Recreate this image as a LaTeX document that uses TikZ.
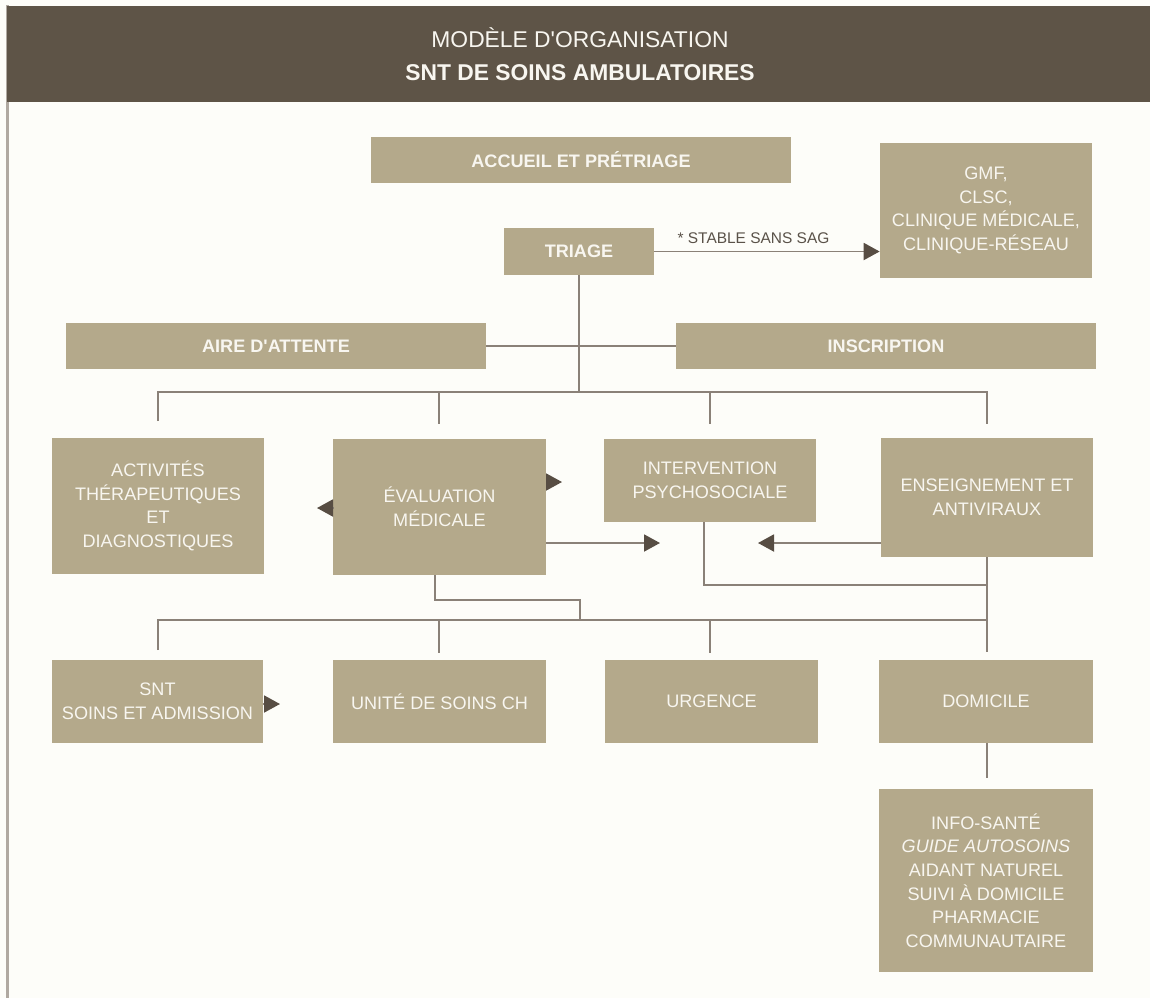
\documentclass[tikz,border=0pt]{standalone}
\usepackage{fontspec}
\setmainfont{Liberation Sans}
\usetikzlibrary{arrows.meta,calc}
\definecolor{hdr}{HTML}{5E5447}
\definecolor{boxc}{HTML}{B4A98B}
\definecolor{linec}{HTML}{8A8178}
\definecolor{tipc}{HTML}{574D43}
\definecolor{bg}{HTML}{FDFDF9}
\definecolor{txt}{HTML}{F8F6F0}
\definecolor{bord}{HTML}{B0A9A1}
\definecolor{lbl}{HTML}{5A5249}
\newcommand\pbox[7][]{%
  \node[box,#1,minimum width={(#5-#3)*0.02cm},minimum height={(#6-#4)*0.02cm}] (#2) at ({(#3+#5)/2},{(#4+#6)/2}) {#7};}
\begin{document}
\begin{tikzpicture}[x=0.02cm,y=-0.02cm,
  box/.style={fill=boxc,text=txt,align=center,inner sep=0pt,font=\fontsize{10.3}{13.4}\selectfont},
  bbox/.style={font=\fontsize{10.3}{13.4}\selectfont\bfseries},
  conn/.style={draw=linec,line width=1.1pt},
  arr/.style={conn,-{Triangle[length=0.32cm,width=0.34cm,color=tipc]}},
  ttl/.style={text=txt,anchor=base,inner sep=0pt,font=\fontsize{13}{16}\selectfont}]
\useasboundingbox (0,0) rectangle (1150,998);
\fill[bg] (0,0) rectangle (1150,998);
\fill[bord] (6,5) rectangle (9,998);
\fill[hdr] (7,6) rectangle (1150,102);
\node[ttl] (t1) at (580,47) {MODÈLE D\textquotesingle ORGANISATION};
\node[ttl,font=\fontsize{13}{16}\selectfont\bfseries] (t2) at (580,80) {SNT DE SOINS AMBULATOIRES};

\pbox[bbox]{acc}{371}{137}{791}{183}{ACCUEIL ET PRÉTRIAGE}
\pbox{gmf}{880}{143}{1092}{278}{GMF,\\CLSC,\\CLINIQUE MÉDICALE,\\CLINIQUE-RÉSEAU}
\pbox[bbox]{triage}{504}{228}{654}{275}{TRIAGE}
\pbox[bbox]{aire}{66}{323}{486}{369}{AIRE D\textquotesingle ATTENTE}
\pbox[bbox]{insc}{676}{323}{1096}{369}{INSCRIPTION}
\pbox{act}{52}{438}{264}{574}{ACTIVITÉS\\THÉRAPEUTIQUES\\ET\\DIAGNOSTIQUES}
\pbox{eval}{333}{439}{546}{575}{ÉVALUATION\\MÉDICALE}
\pbox{inter}{604}{439}{816}{522}{INTERVENTION\\PSYCHOSOCIALE}
\pbox{ens}{881}{438}{1093}{557}{ENSEIGNEMENT ET\\ANTIVIRAUX}
\pbox{snt}{52}{660}{263}{743}{SNT\\SOINS ET ADMISSION}
\pbox{unite}{333}{660}{546}{743}{UNITÉ DE SOINS CH}
\pbox{urg}{605}{660}{818}{743}{URGENCE}
\pbox{dom}{879}{660}{1093}{743}{DOMICILE}
\pbox{info}{879}{789}{1093}{972}{INFO-SANTÉ\\\textit{GUIDE AUTOSOINS}\\AIDANT NATUREL\\SUIVI À DOMICILE\\PHARMACIE\\COMMUNAUTAIRE}

% triage -> gmf
\draw[arr] (triage.east) -- node[pos=0.44,anchor=base,yshift=0.16cm,inner sep=0pt,text=lbl,font=\fontsize{8.8}{10}\selectfont] (stab) {* STABLE SANS SAG} (triage.east -| gmf.west);
% aire -- inscription
\draw[conn] (aire.east) -- (insc.west);
% bus 1
\coordinate (b1L) at (158,392);
\coordinate (b1R) at (987,392);
\coordinate (d1a) at (158,421);
\coordinate (d1b) at (439,424);
\coordinate (d1c) at (710,424);
\coordinate (d1d) at (987,424);
\draw[conn] (triage.south) -- (triage.south |- b1L);
\draw[conn] (d1a) -- (b1L) -- (b1R) -- (d1d);
\draw[conn] (d1b |- b1L) -- (d1b);
\draw[conn] (d1c |- b1L) -- (d1c);
% middle arrows
\coordinate (tipA) at (660,543);
\coordinate (tipB) at (758,543);
\draw[arr] (eval.east |- tipA) -- (tipA);
\draw[arr] (ens.west |- tipB) -- (tipB);
\coordinate (sL) at (317,508);
\coordinate (sR) at (562,482);
\coordinate (sS) at (280,704);
\draw[arr] (eval.west |- sL) -- (sL);
\draw[arr] (eval.east |- sR) -- (sR);
\draw[arr] (snt.east |- sS) -- (sS);
% intervention / enseignement to bus 2
\coordinate (j1) at (704,585);
\coordinate (j2) at (987,585);
\draw[conn] (inter.south -| j1) -- (j1) -- (j2);
\coordinate (e1) at (435,600);
\coordinate (e2) at (580,600);
\coordinate (e3) at (580,620);
\draw[conn] (eval.south -| e1) -- (e1) -- (e2) -- (e3);
% bus 2
\coordinate (b2L) at (158,620);
\coordinate (b2R) at (987,620);
\coordinate (d2a) at (158,650);
\coordinate (d2b) at (439,653);
\coordinate (d2c) at (710,653);
\coordinate (d2d) at (987,652);
\draw[conn] (ens.south) -- (ens.south |- d2d);
\draw[conn] (d2a) -- (b2L) -- (b2R);
\draw[conn] (d2b |- b2L) -- (d2b);
\draw[conn] (d2c |- b2L) -- (d2c);
% domicile
\coordinate (d3) at (987,778);
\draw[conn] (dom.south -| d3) -- (d3);
\end{tikzpicture}
\end{document}
